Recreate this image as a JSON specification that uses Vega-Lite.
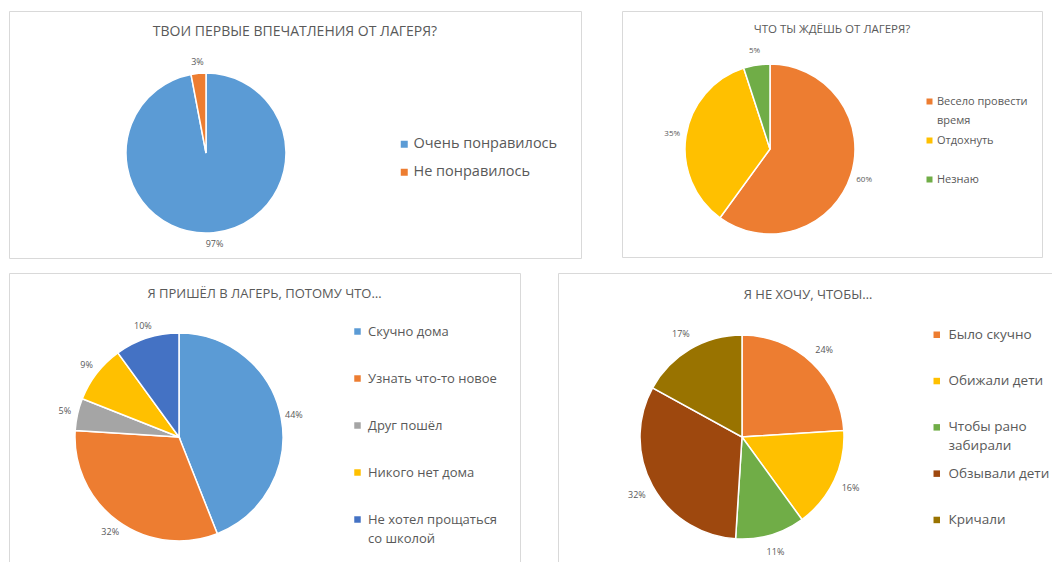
{
  "$schema": "https://vega.github.io/schema/vega-lite/v6.json",
  "background": "white",
  "padding": {"left": 8, "top": 10, "right": 0, "bottom": 0},
  "datasets": {
    "p1": [
      {"cat": "Очень понравилось", "val": 0.97, "ord": 1},
      {"cat": "Не понравилось", "val": 0.03, "ord": 2}
    ],
    "p2": [
      {"cat": "Весело провести время", "val": 0.60, "ord": 1},
      {"cat": "Отдохнуть", "val": 0.35, "ord": 2},
      {"cat": "Незнаю", "val": 0.05, "ord": 3}
    ],
    "p3": [
      {"cat": "Скучно дома", "val": 0.44, "ord": 1},
      {"cat": "Узнать что-то новое", "val": 0.32, "ord": 2},
      {"cat": "Друг пошёл", "val": 0.05, "ord": 3},
      {"cat": "Никого нет дома", "val": 0.09, "ord": 4},
      {"cat": "Не хотел прощаться со школой", "val": 0.10, "ord": 5}
    ],
    "p4": [
      {"cat": "Было скучно", "val": 0.24, "ord": 1},
      {"cat": "Обижали дети", "val": 0.16, "ord": 2},
      {"cat": "Чтобы рано забирали", "val": 0.11, "ord": 3},
      {"cat": "Обзывали дети", "val": 0.32, "ord": 4},
      {"cat": "Кричали", "val": 0.17, "ord": 5}
    ]
  },
  "config": {
    "font": "Open Sans",
    "view": {"stroke": "#d9d9d9", "strokeWidth": 1},
    "style": {"guide-label": {"lineHeight": 19}},
    "title": {"color": "#595959", "fontWeight": "normal", "font": "Open Sans", "baseline": "middle", "anchor": "middle", "frame": "group"},
    "legend": {"title": null, "orient": "none", "symbolType": "square", "labelColor": "#595959", "labelFont": "Open Sans", "symbolStrokeWidth": 0}
  },
  "resolve": {"scale": {"color": "independent", "theta": "independent"}, "legend": {"color": "independent"}},
  "spacing": 13,
  "vconcat": [
    {
      "spacing": 39,
      "resolve": {"scale": {"color": "independent", "theta": "independent"}, "legend": {"color": "independent"}},
      "hconcat": [
        {
          "width": 572, "height": 247,
          "title": {"text": "ТВОИ ПЕРВЫЕ ВПЕЧАТЛЕНИЯ ОТ ЛАГЕРЯ?", "fontSize": 14, "offset": -28},
          "data": {"name": "p1"},
          "encoding": {
            "theta": {"field": "val", "type": "quantitative", "stack": true},
            "order": {"field": "ord", "type": "quantitative"},
            "x": {"value": 197},
            "y": {"value": 142}
          },
          "layer": [
            {
              "mark": {"type": "arc", "outerRadius": 80, "stroke": "white", "strokeWidth": 1.5},
              "encoding": {
                "color": {"field": "cat", "type": "nominal",
                  "scale": {"domain": ["Очень понравилось", "Не понравилось"], "range": ["#5B9BD5", "#ED7D31"]},
                  "legend": {"legendX": 388, "legendY": 126, "labelFontSize": 14.5, "symbolSize": 49, "rowPadding": 13, "labelOffset": 2}}
              }
            },
            {
              "mark": {"type": "text", "radius": 91, "fontSize": 9, "fill": "#595959"},
              "encoding": {"detail": {"field": "cat"}, "text": {"field": "val", "format": ".0%"}}
            }
          ]
        },
        {
          "width": 420, "height": 246,
          "title": {"text": "ЧТО ТЫ ЖДЁШЬ ОТ ЛАГЕРЯ?", "fontSize": 11.5, "offset": -24},
          "data": {"name": "p2"},
          "encoding": {
            "theta": {"field": "val", "type": "quantitative", "stack": true},
            "order": {"field": "ord", "type": "quantitative"},
            "x": {"value": 148},
            "y": {"value": 138}
          },
          "layer": [
            {
              "mark": {"type": "arc", "outerRadius": 85, "stroke": "white", "strokeWidth": 1.5},
              "encoding": {
                "color": {"field": "cat", "type": "nominal",
                  "scale": {"domain": ["Весело провести время", "Отдохнуть", "Незнаю"], "range": ["#ED7D31", "#FFC000", "#70AD47"]},
                  "legend": {"legendX": 302, "legendY": 85, "labelFontSize": 11, "symbolSize": 36, "rowPadding": 8, "labelOffset": 2,
                    "labelExpr": "datum.label == 'Весело провести время' ? ['Весело провести', 'время'] : [datum.label, '']"}}
              }
            },
            {
              "mark": {"type": "text", "radius": 99, "fontSize": 8, "fill": "#595959"},
              "encoding": {"detail": {"field": "cat"}, "text": {"field": "val", "format": ".0%"}}
            }
          ]
        }
      ]
    },
    {
      "spacing": 36,
      "resolve": {"scale": {"color": "independent", "theta": "independent"}, "legend": {"color": "independent"}},
      "hconcat": [
        {
          "width": 511, "height": 300,
          "title": {"text": "Я ПРИШЁЛ В ЛАГЕРЬ, ПОТОМУ ЧТО…", "fontSize": 13, "offset": -28},
          "data": {"name": "p3"},
          "encoding": {
            "theta": {"field": "val", "type": "quantitative", "stack": true},
            "order": {"field": "ord", "type": "quantitative"},
            "x": {"value": 170},
            "y": {"value": 164}
          },
          "layer": [
            {
              "mark": {"type": "arc", "outerRadius": 104, "stroke": "white", "strokeWidth": 1.5},
              "encoding": {
                "color": {"field": "cat", "type": "nominal",
                  "scale": {"domain": ["Скучно дома", "Узнать что-то новое", "Друг пошёл", "Никого нет дома", "Не хотел прощаться со школой"], "range": ["#5B9BD5", "#ED7D31", "#A5A5A5", "#FFC000", "#4472C4"]},
                  "legend": {"legendX": 342, "legendY": 52, "labelFontSize": 13, "symbolSize": 42, "rowPadding": 33, "labelOffset": 4,
                    "labelExpr": "datum.label == 'Не хотел прощаться со школой' ? ['Не хотел прощаться', 'со школой'] : datum.label"}}
              }
            },
            {
              "mark": {"type": "text", "radius": 117, "fontSize": 9, "fill": "#595959"},
              "encoding": {"detail": {"field": "cat"}, "text": {"field": "val", "format": ".0%"}}
            }
          ]
        },
        {
          "width": 500, "height": 300,
          "title": {"text": "Я НЕ ХОЧУ, ЧТОБЫ…", "fontSize": 13, "offset": -29},
          "data": {"name": "p4"},
          "encoding": {
            "theta": {"field": "val", "type": "quantitative", "stack": true},
            "order": {"field": "ord", "type": "quantitative"},
            "x": {"value": 184},
            "y": {"value": 164}
          },
          "layer": [
            {
              "mark": {"type": "arc", "outerRadius": 102, "stroke": "white", "strokeWidth": 1.5},
              "encoding": {
                "color": {"field": "cat", "type": "nominal",
                  "scale": {"domain": ["Было скучно", "Обижали дети", "Чтобы рано забирали", "Обзывали дети", "Кричали"], "range": ["#ED7D31", "#FFC000", "#70AD47", "#9E480E", "#997300"]},
                  "legend": {"legendX": 372, "legendY": 55, "labelFontSize": 13.5, "symbolSize": 42, "rowPadding": 12.3, "labelOffset": 5,
                    "labelExpr": "datum.label == 'Чтобы рано забирали' ? ['Чтобы рано', 'забирали'] : [datum.label, '']"}}
              }
            },
            {
              "mark": {"type": "text", "radius": 120, "fontSize": 9, "fill": "#595959"},
              "encoding": {"detail": {"field": "cat"}, "text": {"field": "val", "format": ".0%"}}
            }
          ]
        }
      ]
    }
  ]
}
